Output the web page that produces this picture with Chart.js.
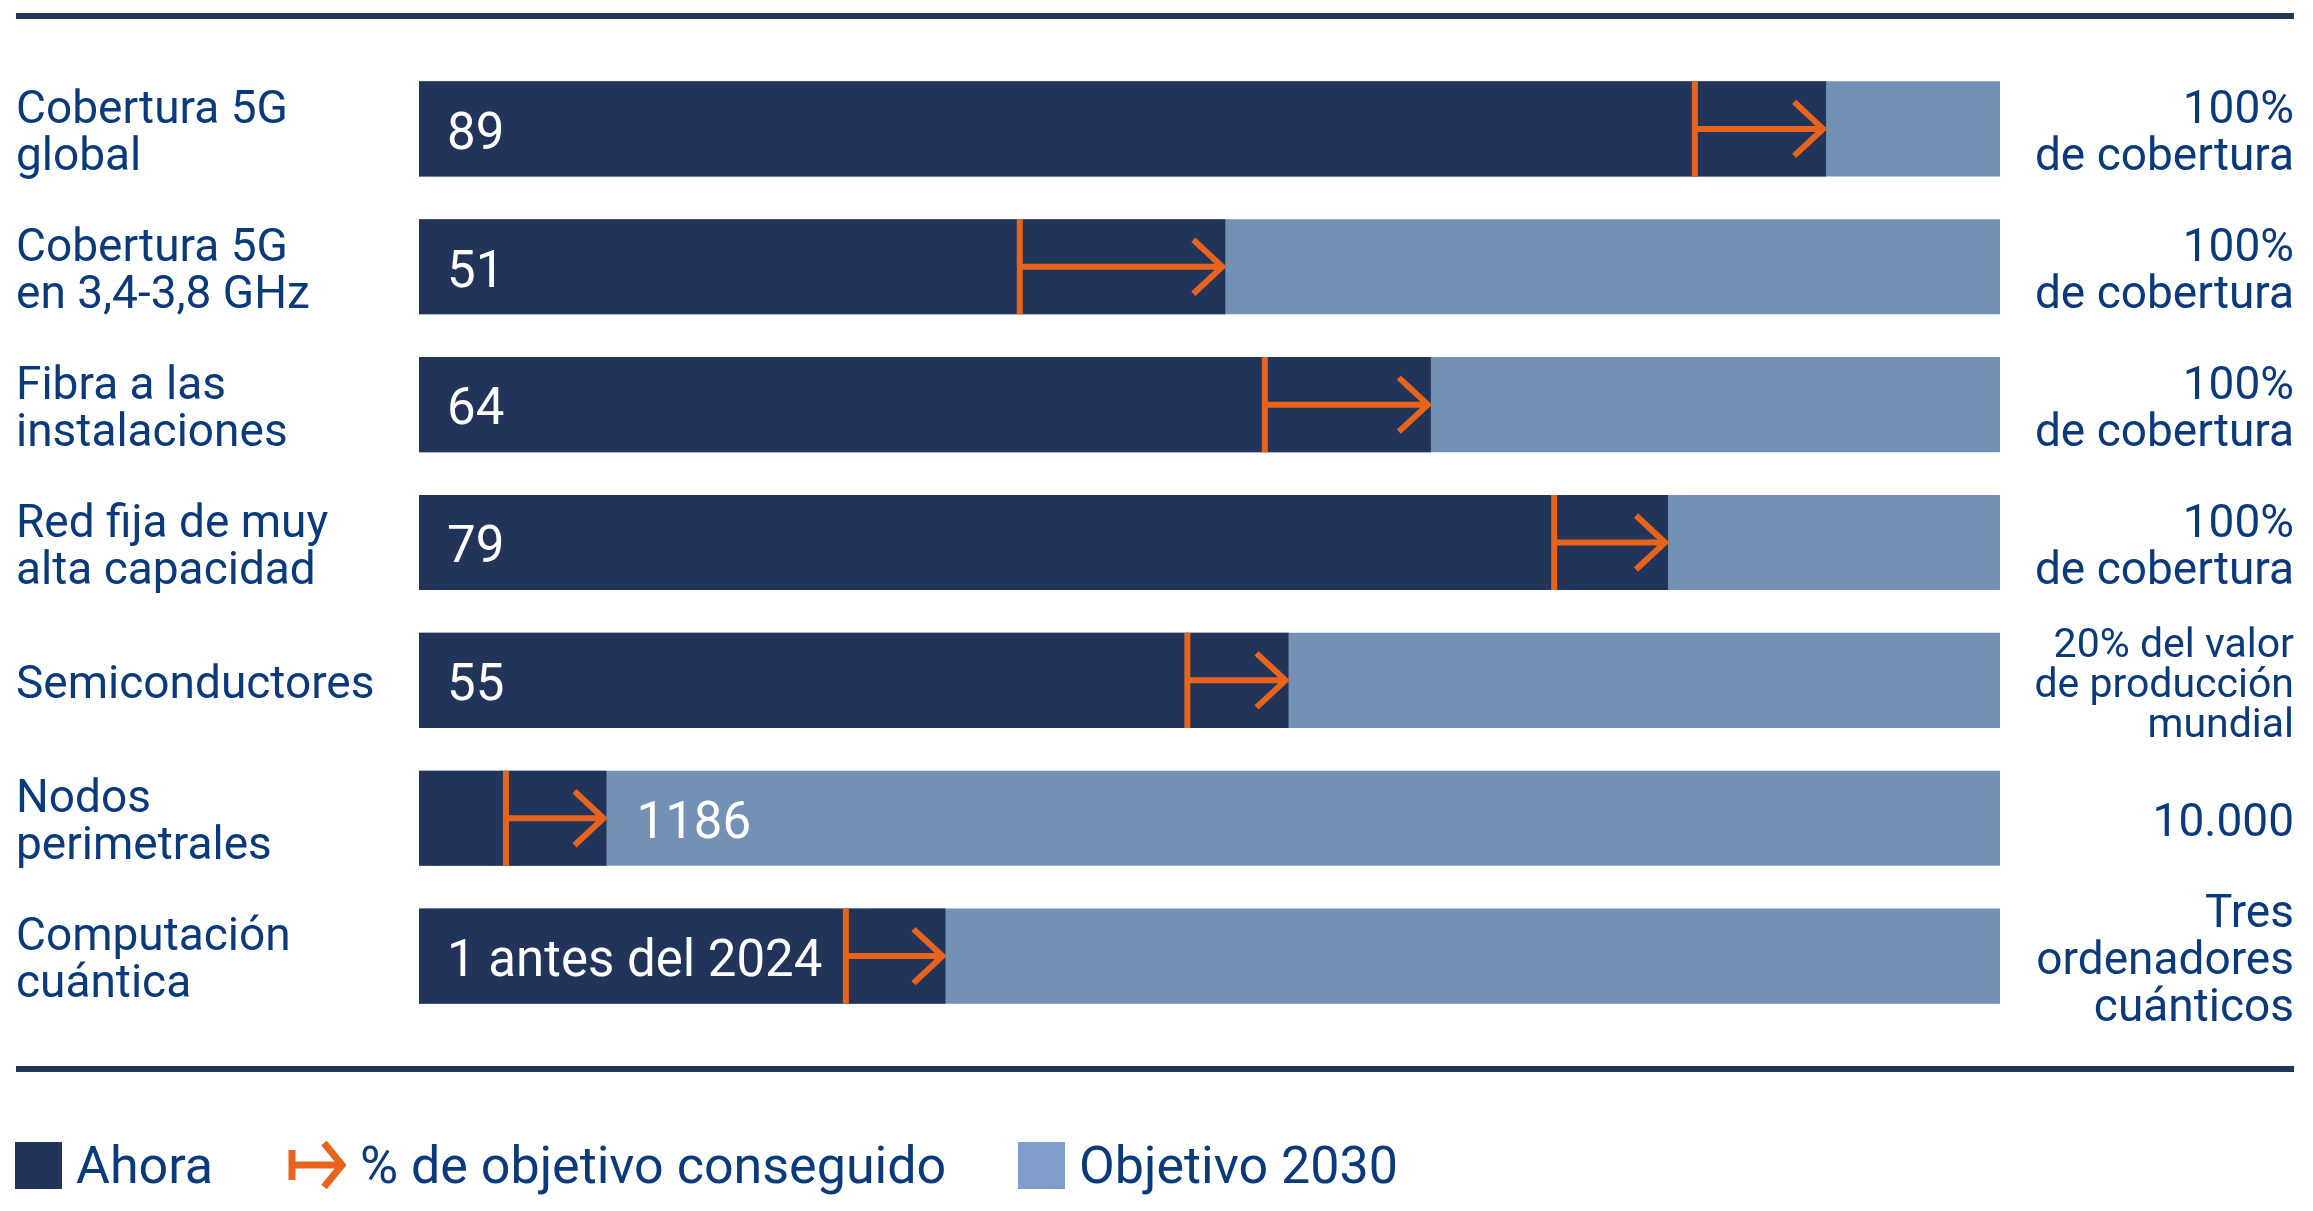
<!DOCTYPE html>
<html lang="es">
<head>
<meta charset="utf-8">
<title>Objetivos digitales 2030</title>
<script src="https://cdn.jsdelivr.net/npm/chart.js@4.4.1/dist/chart.umd.min.js"></script>
<style>
    html, body { margin: 0; padding: 0; background: #fff; }
    #wrap { position: relative; width: 2313px; height: 1211px; }
    #chartBox { position: absolute; left: 0; top: 0; width: 2313px; height: 1110px; }
    #leyenda { font-family: Roboto, sans-serif; font-size: 52px; color: #0a3a7c; }
    #leyenda .item { position: absolute; top: 1138px; height: 54px; display: flex; align-items: center; white-space: nowrap; }
    #leyenda .caja { width: 47px; height: 47px; margin-right: 14px; }
    #leyenda svg { margin-right: 14px; }
</style>
</head>
<body>
<div id="wrap">
    <div id="chartBox"><canvas id="objetivosChart"></canvas></div>
    <div id="leyenda">
        <div class="item" style="left:15px"><div class="caja" style="background:#22345a"></div>Ahora</div>
        <div class="item" style="left:288px">
            <svg width="58" height="54" viewBox="0 0 58 54">
                <path d="M4 12 V42 M4 27 H54 M36 5 L54 27 L36 49" fill="none" stroke="#e8641c" stroke-width="7"/>
            </svg>% de objetivo conseguido
        </div>
        <div class="item" style="left:1018px"><div class="caja" style="background:#7f9ccb"></div>Objetivo 2030</div>
    </div>
</div>
<script>
// Datos (en % del objetivo 2030)
const categorias = [
    ["Cobertura 5G", "global"],
    ["Cobertura 5G", "en 3,4-3,8 GHz"],
    ["Fibra a las", "instalaciones"],
    ["Red fija de muy", "alta capacidad"],
    ["Semiconductores"],
    ["Nodos", "perimetrales"],
    ["Computación", "cuántica"]
];
const ahora = [89, 51, 64, 79, 55, 11.86, 33.3];
const anterior = [80.7, 38, 53.5, 71.8, 48.6, 5.5, 27];
const objetivo = [100, 100, 100, 100, 100, 100, 100];
const etiquetasValor = ["89", "51", "64", "79", "55", "1186", "1 antes del 2024"];
const objetivoTexto = [
    ["100%", "de cobertura"],
    ["100%", "de cobertura"],
    ["100%", "de cobertura"],
    ["100%", "de cobertura"],
    ["20% del valor", "de producción", "mundial"],
    ["10.000"],
    ["Tres", "ordenadores", "cuánticos"]
];

const azulOscuro = '#22345a';
const azulClaro = '#7291b5';
const naranja = '#e8641c';
const azulTexto = '#0a3a7c';

// flechas "% de objetivo conseguido"
const flechasPlugin = {
    id: 'flechas',
    afterDatasetsDraw(chart) {
        const ctx = chart.ctx;
        const xs = chart.scales.x;
        const meta = chart.getDatasetMeta(0);
        ctx.save();
        ctx.strokeStyle = naranja;
        ctx.lineWidth = 6;
        meta.data.forEach((bar, i) => {
            const y = bar.y;
            const h = bar.height / 2;
            const x0 = xs.getPixelForValue(anterior[i]);
            const x1 = xs.getPixelForValue(ahora[i]) - 3;
            ctx.beginPath();
            ctx.moveTo(x0, y - h);
            ctx.lineTo(x0, y + h);
            ctx.moveTo(x0, y);
            ctx.lineTo(x1, y);
            ctx.moveTo(x1 - 29, y - 27);
            ctx.lineTo(x1, y);
            ctx.lineTo(x1 - 29, y + 27);
            ctx.stroke();
        });
        ctx.restore();
    }
};

// etiquetas de valor dentro de las barras
const valoresPlugin = {
    id: 'valores',
    afterDatasetsDraw(chart) {
        const ctx = chart.ctx;
        const xs = chart.scales.x;
        const meta = chart.getDatasetMeta(0);
        ctx.save();
        ctx.font = '51px Roboto';
        ctx.fillStyle = '#ffffff';
        ctx.textBaseline = 'middle';
        meta.data.forEach((bar, i) => {
            const w = ctx.measureText(etiquetasValor[i]).width;
            let x = xs.left + 28;
            if (x + w + 6 > xs.getPixelForValue(anterior[i])) {
                x = xs.getPixelForValue(ahora[i]) + 30;
            }
            ctx.fillText(etiquetasValor[i], x, bar.y + 7);
        });
        ctx.restore();
    }
};

// líneas horizontales arriba y abajo
const lineasPlugin = {
    id: 'lineas',
    afterDraw(chart) {
        const ctx = chart.ctx;
        const area = chart.chartArea;
        ctx.save();
        ctx.fillStyle = azulOscuro;
        ctx.fillRect(16, area.top - 47, 2278, 6);
        ctx.fillRect(16, area.bottom + 41, 2278, 6);
        ctx.restore();
    }
};

// ancho fijo de los ejes, sin margen extra por las etiquetas
function fijarEje(ancho) {
    return function (scale) {
        scale.width = ancho;
        scale.paddingTop = 0;
        scale.paddingBottom = 0;
    };
}

const ctx = document.getElementById('objetivosChart').getContext('2d');
new Chart(ctx, {
    type: 'bar',
    data: {
        labels: categorias,
        datasets: [{
            label: 'Ahora',
            data: ahora,
            backgroundColor: azulOscuro,
            grouped: false,
            barPercentage: 0.69,
            categoryPercentage: 1
        }, {
            label: 'Objetivo 2030',
            data: objetivo,
            backgroundColor: azulClaro,
            grouped: false,
            barPercentage: 0.69,
            categoryPercentage: 1
        }]
    },
    options: {
        indexAxis: 'y',
        responsive: true,
        maintainAspectRatio: false,
        devicePixelRatio: 1,
        animation: false,
        layout: { padding: { left: 16, right: 19, top: 60, bottom: 85 } },
        scales: {
            x: { display: false, min: 0, max: 100 },
            y: {
                position: 'left',
                grid: { display: false },
                border: { display: false },
                ticks: {
                    autoSkip: false,
                    crossAlign: 'far',
                    padding: 0,
                    labelOffset: 6,
                    color: azulTexto,
                    font: { family: 'Roboto', size: 46, lineHeight: '47px' }
                },
                afterFit: fijarEje(403)
            },
            y2: {
                type: 'category',
                axis: 'y',
                labels: objetivoTexto,
                position: 'right',
                offset: true,
                grid: { display: false },
                border: { display: false },
                ticks: {
                    autoSkip: false,
                    crossAlign: 'far',
                    padding: 0,
                    labelOffset: 6,
                    color: azulTexto,
                    font: (c) => c.index === 4
                        ? { family: 'Roboto', size: 41, lineHeight: '40px' }
                        : { family: 'Roboto', size: 46, lineHeight: '47px' }
                },
                afterFit: fijarEje(294)
            }
        },
        plugins: {
            legend: { display: false },
            tooltip: { enabled: false }
        }
    },
    plugins: [flechasPlugin, valoresPlugin, lineasPlugin]
});
</script>
</body>
</html>
